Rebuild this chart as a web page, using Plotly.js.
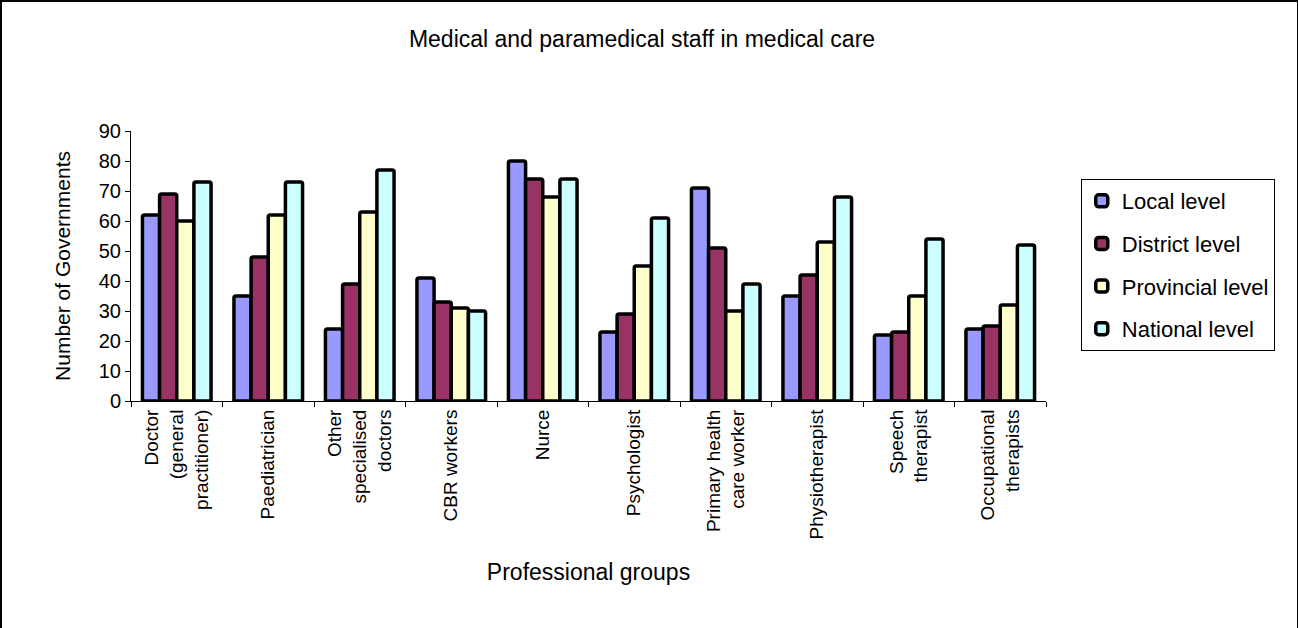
<!DOCTYPE html>
<html>
<head>
<meta charset="utf-8">
<script src="https://cdn.plot.ly/plotly-3.0.1.min.js"></script>
<style>
  html, body { margin: 0; padding: 0; background: #fff; }
  #wrap { position: relative; width: 1298px; height: 628px; }
  #chart { width: 1298px; height: 628px; }
  #frame { position: absolute; left: 0; top: 0; width: 1298px; height: 628px; box-sizing: border-box;
           border-left: 2px solid #000; border-top: 2px solid #000; border-right: 1px solid #000; pointer-events: none; }
</style>
</head>
<body>
<div id="wrap">
  <div id="chart"></div>
  <div id="frame"></div>
</div>
<script>
const categories = [
  "Doctor<br>(general<br>practitioner)",
  "Paediatrician",
  "Other<br>specialised<br>doctors",
  "CBR workers",
  "Nurce",
  "Psychologist",
  "Primary health<br>care worker",
  "Physiotherapist",
  "Speech<br>therapist",
  "Occupational<br>therapists"
];
const seriesNames = ["Local level", "District level", "Provincial level", "National level"];
const localLevel      = [62, 35, 24, 41, 80, 23, 71, 35, 22, 24];
const districtLevel   = [69, 48, 39, 33, 74, 29, 51, 42, 23, 25];
const provincialLevel = [60, 62, 63, 31, 68, 45, 30, 53, 35, 32];
const nationalLevel   = [73, 73, 77, 30, 74, 61, 39, 68, 54, 52];
const seriesColors = ["#9999FF", "#993366", "#FFFFCC", "#CCFFFF"];
const yTickValues = [0, 10, 20, 30, 40, 50, 60, 70, 80, 90];

const FONT = "Liberation Sans, Arial, sans-serif";
const allSeries = [localLevel, districtLevel, provincialLevel, nationalLevel];
const traces = allSeries.map((vals, i) => ({
  type: "bar",
  name: seriesNames[i],
  legendgroup: "g" + i,
  x: categories,
  y: vals,
  marker: { color: seriesColors[i], line: { color: "#000", width: 3.5 }, cornerradius: 2 },
  hoverinfo: "x+y+name"
}));

const layout = {
  width: 1298,
  height: 628,
  paper_bgcolor: "#fff",
  plot_bgcolor: "#fff",
  font: { family: FONT, color: "#000" },
  margin: { l: 131, r: 252, t: 131, b: 227, autoexpand: false },
  title: {
    text: "Medical and paramedical staff in medical care",
    font: { size: 23, family: FONT, color: "#000" },
    xref: "container", x: 642 / 1298, xanchor: "center",
    yref: "container", y: 1 - 39 / 628, yanchor: "middle"
  },
  barmode: "group",
  bargap: 0.25,
  bargroupgap: 0,
  showlegend: true,
  legend: {
    x: 1.038, xanchor: "left",
    y: 0.822, yanchor: "top",
    bordercolor: "#000", borderwidth: 1,
    bgcolor: "#fff",
    font: { size: 22, family: FONT, color: "#000" },
    traceorder: "grouped",
    tracegroupgap: 11
  },
  xaxis: {
    type: "category",
    tickson: "boundaries",
    ticks: "outside", ticklen: 5, tickcolor: "#000", tickwidth: 1,
    showline: true, linecolor: "#000", linewidth: 1,
    tickangle: -90,
    tickfont: { size: 19, family: FONT, color: "#000" },
    showgrid: false, zeroline: false,
    automargin: false,
    title: { text: "Professional groups", font: { size: 23, family: FONT, color: "#000" }, standoff: 25 }
  },
  yaxis: {
    range: [0, 90],
    tickvals: yTickValues,
    ticks: "outside", ticklen: 5, tickcolor: "#000", tickwidth: 1,
    showline: true, linecolor: "#000", linewidth: 1,
    tickfont: { size: 20, family: FONT, color: "#000" },
    showgrid: false, zeroline: false,
    automargin: false,
    title: { text: "Number of Governments", font: { size: 21, family: FONT, color: "#000" }, standoff: 22 }
  }
};

Plotly.newPlot("chart", traces, layout, { displayModeBar: false, staticPlot: false });
</script>
</body>
</html>
